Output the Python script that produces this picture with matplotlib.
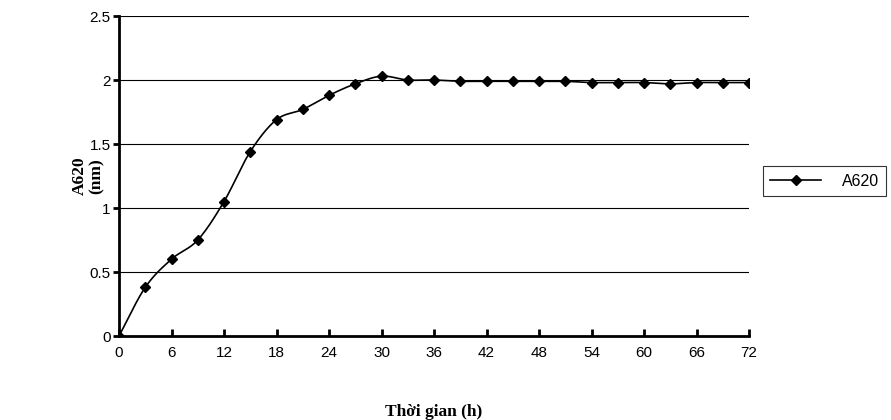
import numpy as np
import matplotlib
matplotlib.use("Agg")
import matplotlib.pyplot as plt

hours = [0,3,6,9,12,15,18,21,24,27,30,33,36,39,42,45,48,51,54,57,60,63,66,69,72]
a620 = [0,0.38,0.60,0.75,1.05,1.44,1.69,1.77,1.88,1.97,2.03,2.00,2.00,1.99,1.99,1.99,1.99,1.99,1.98,1.98,1.98,1.97,1.98,1.98,1.98]
xticks = list(range(0,73,6))
yticks = [0,0.5,1,1.5,2,2.5]

def catmull(x, y, n=20):
    x = np.asarray(x, float); y = np.asarray(y, float)
    px = np.concatenate([[2*x[0]-x[1]], x, [2*x[-1]-x[-2]]])
    py = np.concatenate([[2*y[0]-y[1]], y, [2*y[-1]-y[-2]]])
    xs, ys = [], []
    for i in range(1, len(px)-2):
        t = np.linspace(0, 1, n, endpoint=False)
        for P, out in ((px, xs), (py, ys)):
            p0,p1,p2,p3 = P[i-1],P[i],P[i+1],P[i+2]
            out.extend(0.5*((2*p1)+(-p0+p2)*t+(2*p0-5*p1+4*p2-p3)*t**2+(-p0+3*p1-3*p2+p3)*t**3))
    xs.append(x[-1]); ys.append(y[-1])
    return np.array(xs), np.array(ys)

fig = plt.figure(figsize=(8.91,4.2), dpi=100)
ax = fig.add_axes([119/891, 1-336/420, 630/891, 320/420])
sx, sy = catmull(hours, a620)
ax.plot(sx, sy, color='black', lw=1.2)
ax.plot(hours, a620, ls='none', marker='D', ms=5, color='black')
ax.plot([], [], color='black', lw=1.2, marker='D', ms=5, label='A620')
ax.set_xlim(0,72); ax.set_ylim(0,2.5)
ax.set_xticks(xticks); ax.set_yticks(yticks)
ax.set_yticklabels(['0','0.5','1','1.5','2','2.5'])
for y in yticks[1:]:
    ax.axhline(y, color='black', lw=0.8, zorder=0)
for s in ['top','right']:
    ax.spines[s].set_visible(False)
for s in ['left','bottom']:
    ax.spines[s].set_linewidth(2)
ax.tick_params(direction='in', length=5, width=2, labelsize=11, pad=7)
ax.tick_params(axis='y', direction='out', length=4, pad=2)
for lab in ax.get_xticklabels()+ax.get_yticklabels():
    lab.set_family('Liberation Sans')
ax.set_xlabel('Thời gian (h)', family='Liberation Serif', fontweight='bold', fontsize=12.5, labelpad=32)
fig.text(88/891, 1-176/420, 'A620\n(nm)', rotation=90, family='Liberation Serif', fontweight='bold', fontsize=12.5, ha='center', va='center', linespacing=1.1)
leg = fig.legend(loc='center left', bbox_to_anchor=(763/891, 1-181/420), fancybox=False, edgecolor='black',
                 prop={'family':'Liberation Sans','size':11.5}, handlelength=3.2, handletextpad=1.3,
                 borderpad=0.45, borderaxespad=0)
leg.get_frame().set_linewidth(0.8)
fig.savefig('out.png', dpi=100)
